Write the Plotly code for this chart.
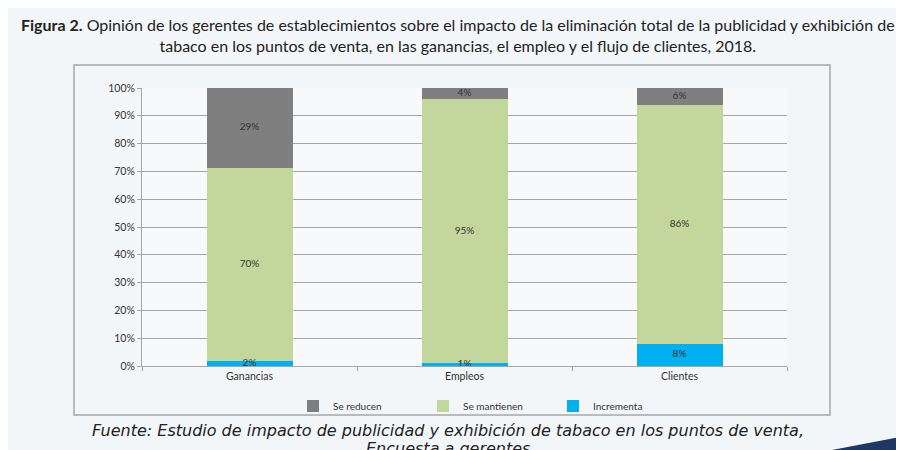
import plotly.graph_objects as go

categories = ["Ganancias", "Empleos", "Clientes"]
incrementa = [2, 1, 8]
se_mantienen = [70, 95, 86]
se_reducen = [29, 4, 6]
y_ticks = [0, 10, 20, 30, 40, 50, 60, 70, 80, 90, 100]
y_tick_labels = [f"{v}%" for v in y_ticks]

colors = {"Incrementa": "#00b0f0", "Se mantienen": "#c3d69b", "Se reducen": "#7f7f7f"}

# page offset compensation (browser body margin of 8px)
OFF = 8
W, H = 904 - OFF, 450 - OFF
L, T = 142 - OFF, 88 - OFF
PW, PH = 787 - 142, 366 - 88


def px_x(x):
    return (x - 142) / PW


def px_y(y):
    return (366 - y) / PH


series = [("Incrementa", incrementa), ("Se mantienen", se_mantienen), ("Se reducen", se_reducen)]

fig = go.Figure()
for name, vals in series:
    fig.add_trace(go.Bar(
        x=categories, y=vals, name=name,
        marker=dict(color=colors[name], line=dict(width=0)),
        width=0.4, hoverinfo="x+y+name",
    ))

# data labels on top of all bars (centred in each normalised segment)
totals = [sum(s[1][i] for s in series) for i in range(len(categories))]
lab_x, lab_y, lab_t = [], [], []
for i, cat in enumerate(categories):
    base = 0.0
    for name, vals in series:
        h = vals[i] / totals[i] * 100
        lab_x.append(cat)
        lab_y.append(base + h / 2)
        lab_t.append(f"{vals[i]}%")
        base += h
fig.add_trace(go.Scatter(
    x=lab_x, y=lab_y, text=lab_t, mode="text", showlegend=False, hoverinfo="skip",
    textfont=dict(family="Lato", size=10, color="#333333"), cliponaxis=False,
))

fig.update_layout(
    barmode="stack", barnorm="percent",
    width=W, height=H,
    margin=dict(l=L, r=W - (787 - OFF), t=T, b=H - (366 - OFF), autoexpand=False),
    paper_bgcolor="#f3f6f9", plot_bgcolor="#f7f9fb",
    showlegend=True,
    legend=dict(orientation="h", x=px_x(488), xanchor="center", y=px_y(406), yanchor="middle",
                traceorder="reversed", font=dict(family="Lato", size=10, color="#333333"),
                bgcolor="rgba(0,0,0,0)", entrywidth=85),
)
fig.update_yaxes(range=[0, 100], tickvals=y_ticks, ticktext=y_tick_labels,
                 showgrid=True, gridcolor="#a6a6a6", gridwidth=1,
                 showline=True, linecolor="#a6a6a6", linewidth=1,
                 ticks="outside", ticklen=4, tickcolor="#a6a6a6",
                 tickfont=dict(family="Lato", size=10.5, color="#333333"), zeroline=False)
fig.update_xaxes(showline=True, linecolor="#a6a6a6", linewidth=1,
                 ticks="outside", tickson="boundaries", ticklen=4, tickcolor="#a6a6a6",
                 tickfont=dict(family="Lato", size=10.5, color="#333333"))

# chart border box
fig.add_shape(type="rect", xref="paper", yref="paper",
              x0=px_x(74), x1=px_x(830), y0=px_y(415), y1=px_y(65),
              line=dict(color="#a6a6a6", width=1.5), fillcolor="rgba(0,0,0,0)", layer="below")

# dark decorative swoosh at bottom right
fig.add_shape(type="path", xref="paper", yref="paper",
              path=f"M {px_x(832)},{px_y(450)} L {px_x(905)},{px_y(436)} L {px_x(905)},{px_y(450)} Z",
              line=dict(width=0), fillcolor="#1f3864", layer="below")

fig.add_annotation(
    xref="paper", yref="paper", x=px_x(458), y=px_y(35),
    text="<b>Figura 2.</b> Opinión de los gerentes de establecimientos sobre el impacto de la eliminación total de la publicidad y exhibición de<br>tabaco en los puntos de venta, en las ganancias, el empleo y el flujo de clientes, 2018.",
    showarrow=False, align="center", xanchor="center", yanchor="middle",
    font=dict(family="Lato", size=16, color="#222222"))

fig.add_annotation(
    xref="paper", yref="paper", x=px_x(448), y=px_y(430),
    text="<i>Fuente: Estudio de impacto de publicidad y exhibición de tabaco en los puntos de venta,</i>",
    showarrow=False, xanchor="center", yanchor="middle",
    font=dict(family="DejaVu Sans", size=16, color="#222222"))
fig.add_annotation(
    xref="paper", yref="paper", x=px_x(448), y=px_y(448),
    text="<i>Encuesta a gerentes</i>",
    showarrow=False, xanchor="center", yanchor="middle",
    font=dict(family="DejaVu Sans", size=16, color="#222222"))

fig.write_html("out.html")
